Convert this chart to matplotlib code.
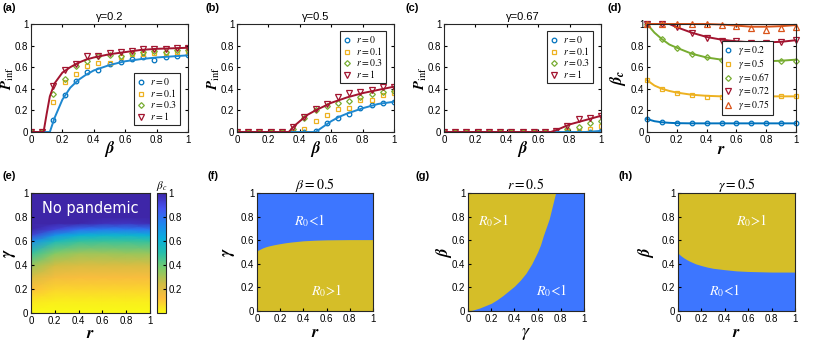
# -*- coding: utf-8 -*-
"""
Epidemic threshold figure: P_inf vs beta, beta_c vs r, phase diagrams
"""

import numpy as np
import matplotlib
matplotlib.use('Agg')
import matplotlib.pyplot as plt
from matplotlib.colors import LinearSegmentedColormap

plt.rcParams['font.family'] = ['Liberation Sans', 'DejaVu Sans']
plt.rcParams['mathtext.fontset'] = 'stix'
plt.rcParams['font.size'] = 7
plt.rcParams['axes.linewidth'] = 0.8
plt.rcParams['axes.edgecolor'] = '#262626'
plt.rcParams['xtick.direction'] = 'in'
plt.rcParams['ytick.direction'] = 'in'
plt.rcParams['xtick.top'] = True
plt.rcParams['ytick.right'] = True
plt.rcParams['xtick.major.size'] = 2.5
plt.rcParams['ytick.major.size'] = 2.5
plt.rcParams['xtick.major.pad'] = 2
plt.rcParams['ytick.major.pad'] = 2

# ---------------- data ----------------
beta_pts = [0, 0.0714, 0.1429, 0.2143, 0.2857, 0.3571, 0.4286, 0.5, 0.5714,
            0.6429, 0.7143, 0.7857, 0.8571, 0.9286, 1.0]
r_labels = ['$r=0$', '$r=0.1$', '$r=0.3$', '$r=1$']

# (a) gamma = 0.2
a_r0 = [0, 0, 0.11, 0.34, 0.47, 0.56, 0.57, 0.63, 0.65, 0.68, 0.69, 0.67, 0.69, 0.70, 0.71]
a_r01 = [0, 0, 0.28, 0.46, 0.54, 0.61, 0.64, 0.64, 0.69, 0.72, 0.72, 0.73, 0.73, 0.74, 0.74]
a_r03 = [0, 0, 0.35, 0.49, 0.61, 0.66, 0.70, 0.71, 0.70, 0.73, 0.74, 0.75, 0.74, 0.76, 0.76]
a_r1 = [0, 0, 0.43, 0.57, 0.63, 0.70, 0.70, 0.73, 0.74, 0.75, 0.77, 0.77, 0.77, 0.78, 0.78]
a_line_b0 = [0, 0.12, 0.15, 0.2, 0.25, 0.3, 0.35, 0.4, 0.5, 0.6, 0.7, 0.8, 0.9, 1.0]
a_line_r0 = [0, 0, 0.13, 0.30, 0.41, 0.48, 0.53, 0.57, 0.62, 0.655, 0.675, 0.69, 0.70, 0.71]
a_line_b1 = [0, 0.08, 0.1, 0.12, 0.15, 0.2, 0.25, 0.3, 0.35, 0.4, 0.5, 0.6, 0.7, 0.8, 0.9, 1.0]
a_line_r1 = [0, 0, 0.17, 0.33, 0.45, 0.55, 0.60, 0.64, 0.67, 0.69, 0.72, 0.74, 0.76, 0.77, 0.775, 0.78]

# (b) gamma = 0.5
b_r0 = [0, 0, 0, 0, 0, 0, 0, 0.01, 0.08, 0.13, 0.17, 0.22, 0.25, 0.27, 0.28]
b_r01 = [0, 0, 0, 0, 0, 0, 0.03, 0.10, 0.16, 0.21, 0.22, 0.30, 0.30, 0.34, 0.36]
b_r03 = [0, 0, 0, 0, 0, 0.03, 0.13, 0.20, 0.24, 0.27, 0.29, 0.32, 0.35, 0.37, 0.38]
b_r1 = [0, 0, 0, 0, 0, 0.05, 0.14, 0.21, 0.26, 0.32, 0.36, 0.37, 0.39, 0.42, 0.42]
b_line_b0 = [0, 0.5, 0.55, 0.6, 0.65, 0.7, 0.8, 0.9, 1.0]
b_line_r0 = [0, 0, 0.05, 0.10, 0.14, 0.17, 0.22, 0.26, 0.28]
b_line_b1 = [0, 0.33, 0.36, 0.4, 0.45, 0.5, 0.6, 0.7, 0.8, 0.9, 1.0]
b_line_r1 = [0, 0, 0.05, 0.10, 0.16, 0.20, 0.27, 0.32, 0.36, 0.39, 0.42]

# (c) gamma = 0.67
c_r0 = [0, 0, 0, 0, 0, 0, 0, 0, 0, 0, 0, 0, 0, 0, 0.01]
c_r01 = [0, 0, 0, 0, 0, 0, 0, 0, 0, 0, 0, 0.01, 0.01, 0.03, 0.06]
c_r03 = [0, 0, 0, 0, 0, 0, 0, 0, 0, 0, 0, 0.03, 0.05, 0.08, 0.10]
c_r1 = [0, 0, 0, 0, 0, 0, 0, 0, 0, 0, 0.01, 0.06, 0.12, 0.13, 0.15]
c_line_b0 = [0, 0.9, 1.0]
c_line_r0 = [0, 0, 0.01]
c_line_b1 = [0, 0.68, 0.72, 0.76, 0.8, 0.85, 0.9, 0.95, 1.0]
c_line_r1 = [0, 0, 0.02, 0.045, 0.07, 0.09, 0.11, 0.13, 0.15]

# (d) beta_c vs r
r_pts = [0, 0.1, 0.2, 0.3, 0.4, 0.5, 0.6, 0.7, 0.8, 0.9, 1.0]
g_labels = [r'$\gamma=0.2$', r'$\gamma=0.5$', r'$\gamma=0.67$', r'$\gamma=0.72$', r'$\gamma=0.75$']
d_g02 = [0.12, 0.09, 0.08, 0.08, 0.08, 0.08, 0.08, 0.08, 0.08, 0.08, 0.08]
d_g05 = [0.48, 0.40, 0.36, 0.34, 0.32, 0.32, 0.33, 0.33, 0.33, 0.33, 0.33]
d_g067 = [1.0, 0.86, 0.78, 0.72, 0.69, 0.67, 0.66, 0.65, 0.65, 0.66, 0.66]
d_g072 = [1.0, 1.0, 0.97, 0.92, 0.87, 0.84, 0.84, 0.82, 0.82, 0.83, 0.85]
d_g075 = [1.0, 1.0, 1.0, 1.0, 1.0, 0.99, 0.98, 0.96, 0.94, 0.96, 0.97]
d_line_r = [0, 0.05, 0.1, 0.15, 0.2, 0.3, 0.4, 0.5, 0.6, 0.7, 0.8, 0.9, 1.0]
d_line_g02 = [0.12, 0.10, 0.09, 0.085, 0.082, 0.08, 0.08, 0.08, 0.08, 0.08, 0.08, 0.08, 0.08]
d_line_g05 = [0.48, 0.43, 0.40, 0.38, 0.365, 0.345, 0.335, 0.33, 0.33, 0.33, 0.33, 0.33, 0.33]
d_line_g067 = [1.0, 0.92, 0.86, 0.81, 0.78, 0.725, 0.69, 0.67, 0.66, 0.655, 0.655, 0.66, 0.67]
d_line_g072 = [1.0, 1.0, 1.0, 1.0, 0.97, 0.92, 0.88, 0.855, 0.84, 0.83, 0.83, 0.835, 0.85]
d_line_g075 = [1.0, 1.0, 1.0, 1.0, 1.0, 1.0, 1.0, 0.995, 0.985, 0.975, 0.975, 0.98, 0.99]

# (e) beta_c heat map over (r, gamma)
e_r = [0, 0.2, 0.4, 0.6, 0.8, 1.0]
e_gamma = [0, 0.1, 0.2, 0.3, 0.4, 0.5, 0.6, 0.65, 0.7, 0.75, 0.8, 0.9, 1.0]
e_betac = [
    [0.00, 0.00, 0.00, 0.00, 0.00, 0.00],
    [0.04, 0.03, 0.03, 0.03, 0.03, 0.03],
    [0.12, 0.08, 0.08, 0.08, 0.08, 0.08],
    [0.22, 0.15, 0.14, 0.14, 0.14, 0.14],
    [0.33, 0.24, 0.22, 0.22, 0.22, 0.22],
    [0.48, 0.36, 0.32, 0.32, 0.33, 0.33],
    [0.72, 0.54, 0.48, 0.47, 0.47, 0.48],
    [0.92, 0.70, 0.61, 0.59, 0.59, 0.61],
    [1.00, 0.92, 0.82, 0.78, 0.78, 0.80],
    [1.00, 1.00, 1.00, 0.97, 0.96, 0.98],
    [1.00, 1.00, 1.00, 1.00, 1.00, 1.00],
    [1.00, 1.00, 1.00, 1.00, 1.00, 1.00],
    [1.00, 1.00, 1.00, 1.00, 1.00, 1.00],
]

# (f) beta = 0.5 : boundary gamma(r)
f_r = [0, 0.025, 0.05, 0.075, 0.1, 0.15, 0.2, 0.25, 0.3, 0.4, 0.5, 0.6, 0.8, 1.0]
f_gamma = [0.51, 0.523, 0.535, 0.544, 0.551, 0.562, 0.571, 0.579, 0.585, 0.595,
           0.600, 0.603, 0.605, 0.605]
# (g) r = 0.5 : boundary beta(gamma)
g_gamma = [0, 0.05, 0.1, 0.15, 0.2, 0.25, 0.3, 0.35, 0.4, 0.45, 0.5, 0.55, 0.6,
           0.625, 0.65, 0.675, 0.7, 0.72, 0.74, 0.755, 1.0]
g_beta = [0, 0.01, 0.025, 0.045, 0.065, 0.095, 0.13, 0.17, 0.21, 0.26, 0.32, 0.40,
          0.50, 0.56, 0.64, 0.71, 0.78, 0.86, 0.94, 1.0, 1.0]
# (h) gamma = 0.5 : boundary beta(r)
h_r = [0, 0.025, 0.05, 0.075, 0.1, 0.15, 0.2, 0.25, 0.3, 0.4, 0.5, 0.6, 0.8, 1.0]
h_beta = [0.49, 0.468, 0.45, 0.435, 0.422, 0.40, 0.385, 0.372, 0.362, 0.35, 0.34,
          0.335, 0.33, 0.33]

# ---------------- style ----------------
cBlue = '#0072BD'
cYellow = '#EDB120'
cGreen = '#77AC30'
cRed = '#A2142F'
cOrange = '#D95319'
cLineBlue = '#1E88D0'
cRegionBlue = '#3D76FF'
cRegionYellow = '#D5BE28'

markers = ['o', 's', 'D', 'v']
pcolors = [cBlue, cYellow, cGreen, cRed]
mks = [3.3, 3.1, 2.9, 3.8]

fig = plt.figure(figsize=(8.22, 3.44), dpi=100)


def add_ax(x0, y0, x1, y1):
    W, H = 822.0, 344.0
    return fig.add_axes([x0 / W, 1 - y1 / H, (x1 - x0) / W, (y1 - y0) / H])


def unit_ticks(ax):
    ax.set_xlim(0, 1)
    ax.set_ylim(0, 1)
    ax.set_xticks([0, 0.2, 0.4, 0.6, 0.8, 1])
    ax.set_xticklabels(['0', '0.2', '0.4', '0.6', '0.8', '1'])
    ax.set_yticks([0, 0.2, 0.4, 0.6, 0.8, 1])
    ax.set_yticklabels(['0', '0.2', '0.4', '0.6', '0.8', '1'])


def labels(ax, xl, yl, xpos, ypos, xsize=12, ysize=12):
    ax.set_xlabel(xl, fontsize=xsize, va='center')
    ax.set_ylabel(yl, fontsize=ysize, va='center')
    ax.xaxis.set_label_coords(0.5, xpos)
    ax.yaxis.set_label_coords(ypos, 0.5)


def make_legend(ax, loc, anchor):
    leg = ax.legend(loc=loc, bbox_to_anchor=anchor, fontsize=7,
                    handlelength=0.8, handletextpad=0.6, borderpad=0.3,
                    labelspacing=0.0, fancybox=False, framealpha=1,
                    edgecolor='#262626')
    leg.get_frame().set_linewidth(0.8)


def pinf_panel(ax, series, lines, title, legloc):
    for ys, m, c, ms, lab in zip(series, markers, pcolors, mks, r_labels):
        ax.plot(beta_pts, ys, linestyle='none', marker=m, mfc='none', mec=c,
                ms=ms, mew=0.9, label=lab)
    ax.plot(lines[0], lines[1], color=cLineBlue, lw=1.4)
    ax.plot(lines[2], lines[3], color=cRed, lw=1.4)
    unit_ticks(ax)
    labels(ax, r'$\mathbfit{\beta}$', r'$\mathbfit{P}_{\mathbfit{\inf}}$', -0.16, -0.15,
           ysize=10.5)
    ax.set_title(title, fontsize=8, pad=3)
    make_legend(ax, legloc[0], legloc[1])


# (a)
ax = add_ax(31, 24, 188, 132)
pinf_panel(ax, [a_r0, a_r01, a_r03, a_r1],
           [a_line_b0, a_line_r0, a_line_b1, a_line_r1], '\u03b3=0.2',
           ('lower right', (0.98, 0.02)))

# (b)
ax = add_ax(237, 24, 394, 132)
pinf_panel(ax, [b_r0, b_r01, b_r03, b_r1],
           [b_line_b0, b_line_r0, b_line_b1, b_line_r1], '\u03b3=0.5',
           ('upper right', (0.98, 0.98)))

# (c)
ax = add_ax(444, 24, 601, 132)
pinf_panel(ax, [c_r0, c_r01, c_r03, c_r1],
           [c_line_b0, c_line_r0, c_line_b1, c_line_r1], '\u03b3=0.67',
           ('upper right', (0.98, 0.98)))

# (d)
ax = add_ax(647, 24, 796, 132)
d_series = [d_g02, d_g05, d_g067, d_g072, d_g075]
d_lines = [d_line_g02, d_line_g05, d_line_g067, d_line_g072, d_line_g075]
d_cols = [cBlue, cYellow, cGreen, cRed, cOrange]
d_mk = ['o', 's', 'D', 'v', '^']
d_ms = [3.3, 3.1, 2.9, 3.8, 3.8]
for ys, ln, c, m, ms, lab in zip(d_series, d_lines, d_cols, d_mk, d_ms, g_labels):
    ax.plot(d_line_r, ln, color=c, lw=1.4, clip_on=False)
    ax.plot(r_pts, ys, linestyle='none', marker=m, mfc='none', mec=c, ms=ms,
            mew=0.9, label=lab, clip_on=False)
unit_ticks(ax)
labels(ax, r'$\mathbfit{r}$', r'$\mathbfit{\beta}_{\mathbfit{c}}$', -0.16, -0.195)
make_legend(ax, 'lower right', (0.88, 0.11))

# (e) heat map, flipped parula-like colormap
parula_pts = [(0.2422, 0.1504, 0.6603), (0.2760, 0.3235, 0.9433),
              (0.1248, 0.5150, 0.9370), (0.0340, 0.6800, 0.8700),
              (0.1500, 0.7500, 0.6700), (0.4700, 0.8000, 0.4200),
              (0.8000, 0.7400, 0.2700), (0.9900, 0.7400, 0.2400),
              (0.9769, 0.9839, 0.0805)]
parula_r = LinearSegmentedColormap.from_list('parula_r', parula_pts[::-1])

ax = add_ax(31, 193, 150, 313)
R, G = np.meshgrid(e_r, e_gamma)
pm = ax.pcolormesh(R, G, np.array(e_betac), cmap=parula_r, vmin=0, vmax=1,
                   shading='gouraud', rasterized=True)
unit_ticks(ax)
ax.tick_params(top=False, right=False, length=2)
ax.text(0.5, 0.87, 'No pandemic', color='white', fontsize=10.5,
        ha='center', va='center', family='DejaVu Sans')
labels(ax, r'$\mathbfit{r}$', r'$\mathbfit{\gamma}$', -0.167, -0.175)

cax = add_ax(157, 193, 166, 313)
cb = fig.colorbar(pm, cax=cax, ticks=[0.2, 0.4, 0.6, 0.8, 1])
cb.ax.set_yticklabels(['0.2', '0.4', '0.6', '0.8', '1'])
cb.ax.tick_params(direction='in', length=2, pad=2, right=True)
cb.outline.set_linewidth(0.8)
cax.set_title(r'$\beta_c$', fontsize=8, pad=2)


def region_panel(ax, title):
    unit_ticks(ax)
    ax.set_facecolor(cRegionBlue)
    ax.set_title(title, fontsize=10, pad=3)
    ax.tick_params(top=False, right=False, length=2)


def r0_text(ax, x, y, s):
    ax.text(x, y, s, color='white', fontsize=10, ha='center', va='center',
            family='STIXGeneral')


# (f)
ax = add_ax(257, 193, 373, 311)
region_panel(ax, r'$\beta=0.5$')
ax.fill_between(f_r, 0, f_gamma, color=cRegionYellow, lw=0)
r0_text(ax, 0.45, 0.77, r'$R_0$<1')
r0_text(ax, 0.6, 0.17, r'$R_0$>1')
labels(ax, r'$\mathbfit{r}$', r'$\mathbfit{\gamma}$', -0.186, -0.24)

# (g)
ax = add_ax(468, 193, 584, 311)
region_panel(ax, r'$r=0.5$')
ax.fill_between(g_gamma, g_beta, 1, color=cRegionYellow, lw=0)
r0_text(ax, 0.22, 0.77, r'$R_0$>1')
r0_text(ax, 0.72, 0.17, r'$R_0$<1')
labels(ax, r'$\gamma$', r'$\mathbfit{\beta}$', -0.19, -0.207, xsize=13)

# (h)
ax = add_ax(678, 193, 795, 311)
region_panel(ax, r'$\gamma=0.5$')
ax.fill_between(h_r, h_beta, 1, color=cRegionYellow, lw=0)
r0_text(ax, 0.63, 0.77, r'$R_0$>1')
r0_text(ax, 0.4, 0.17, r'$R_0$<1')
labels(ax, r'$\mathbfit{r}$', r'$\mathbfit{\beta}$', -0.186, -0.27)

# panel letters
for lab, x, y in [('(a)', 2, 8), ('(b)', 205, 8), ('(c)', 405, 8), ('(d)', 607, 8),
                  ('(e)', 2, 176), ('(f)', 207, 176), ('(g)', 415, 176), ('(h)', 618, 176)]:
    fig.text(x / 822.0, 1 - y / 344.0, lab, fontsize=8, fontweight='bold',
             ha='left', va='center')

fig.savefig('out.png', dpi=100)
